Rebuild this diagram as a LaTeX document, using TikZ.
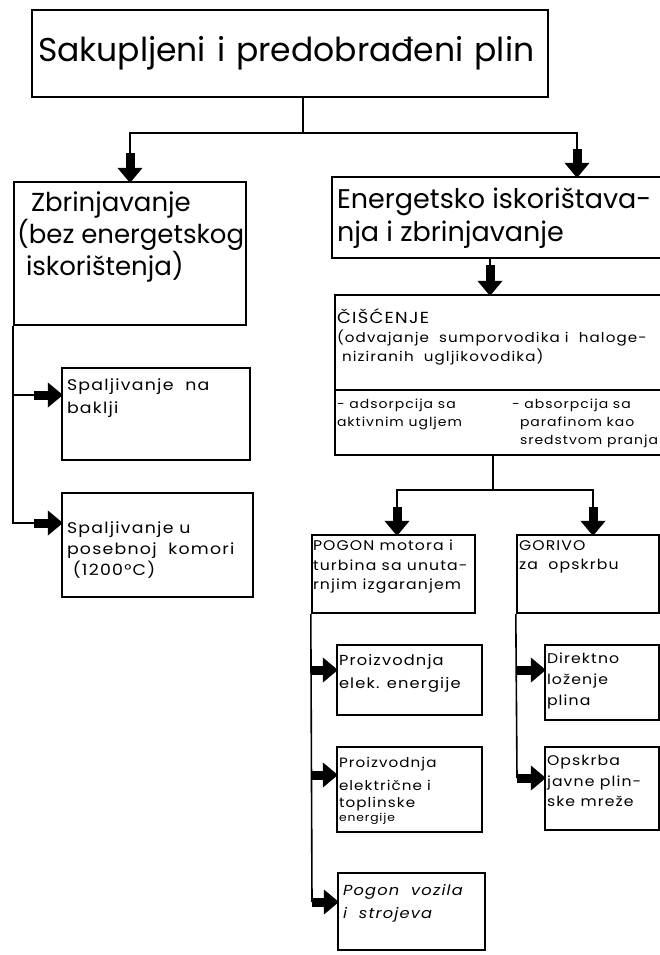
\documentclass[tikz,border=0pt]{standalone}
\usepackage{fontspec}
\setmainfont{Poppins}
\newfontfamily\wide{Poppins}[FakeStretch=1.12, LetterSpace=8]
\usetikzlibrary{arrows.meta}

\begin{document}
\begin{tikzpicture}[
    x=1pt, y=-1pt,
    box/.style={rectangle, draw=black, line width=2.4pt, inner sep=0pt},
    txt/.style={anchor=base west, align=left, inner sep=0pt},
    ln/.style={line width=1.6pt, draw=black},
    fat/.style={line width=9pt, shorten >=-2pt, -{Triangle[length=15pt, width=25pt, line width=0.4pt]}}
  ]
  \useasboundingbox (0,0) rectangle (660,955);

  \node[box, minimum width=516pt, minimum height=87pt, text width=504pt, align=left, font=\fontsize{33}{40}\selectfont] (top) at (290,53.5) {Sakupljeni i predobrađeni plin};

  \node[box, minimum width=232pt, minimum height=143pt, label={[txt, font=\fontsize{26}{30}\selectfont, xshift=4pt, yshift=-95pt]north west:{\hspace{14pt}Zbrinjavanje\\(bez energetskog\\\hspace{9pt}iskorištenja)}}] (zbr) at (130,253.5) {};
  \node[box, minimum width=332pt, minimum height=81pt, label={[txt, font=\fontsize{27}{33}\selectfont, xshift=6pt, yshift=-66pt]north west:{Energetsko iskorištava-\\nja i zbrinjavanje}}] (energ) at (498,217.5) {};

  \node[box, minimum width=188pt, minimum height=92pt, label={[txt, font=\wide\fontsize{15.5}{23}\selectfont, xshift=6pt, yshift=-47pt]north west:{Spaljivanje \ na\\baklji}}] (bakl) at (156,414) {};
  \node[box, minimum width=191pt, minimum height=104pt, label={[txt, font=\wide\fontsize{15.5}{21}\selectfont, xshift=6pt, yshift=-84pt]north west:{Spaljivanje u\\posebnoj \ komori\\\ (1200°C)}}] (komor) at (157.5,545) {};

  \node[box, minimum width=329pt, minimum height=95pt, label={[txt, font=\wide\fontsize{13.5}{19}\selectfont, xshift=3pt, yshift=-68pt]north west:{{\fontsize{16}{19}\selectfont ČIŠĆENJE}\\(odvajanje \ sumporvodika i \ haloge-\\\ niziranih \ ugljikovodika)}}] (ciscA) at (499.5,342.5) {};
  \node[box, minimum width=329pt, minimum height=65pt, label={[txt, font=\wide\fontsize{12.5}{18}\selectfont, xshift=3pt, yshift=-56pt]north west:{\begin{tabular}[b]{@{}p{175pt}@{}l@{}}- adsorpcija sa & - absorpcija sa\\aktivnim ugljem & \hspace{8pt}parafinom kao\\ & \hspace{8pt}sredstvom pranja\end{tabular}}}] (ciscB) at (499.5,422.5) {};

  \node[box, minimum width=163pt, minimum height=78pt, label={[txt, font=\wide\fontsize{14}{19.5}\selectfont, xshift=2pt, yshift=-56pt]north west:{POGON motora i\\turbina sa unuta-\\rnjim izgaranjem}}] (pogon) at (393.5,574) {};
  \node[box, minimum width=142pt, minimum height=78pt, label={[txt, font=\wide\fontsize{14}{19.5}\selectfont, xshift=3pt, yshift=-36pt]north west:{GORIVO\\za \ opskrbu}}] (goriv) at (588,574) {};

  \node[box, minimum width=145pt, minimum height=70pt, label={[txt, font=\wide\fontsize{14.5}{23}\selectfont, xshift=3pt, yshift=-45pt]north west:{Proizvodnja\\elek. energije}}] (elek) at (409.5,680) {};
  \node[box, minimum width=145pt, minimum height=85pt, label={[txt, font=\wide\fontsize{13.5}{17}\selectfont, xshift=3pt, yshift=-76pt]north west:{Proizvodnja\\[6pt]električne i\\toplinske\\[-3pt]{\fontsize{11}{12}\selectfont energije}}}] (topl) at (409.5,789.5) {};
  \node[box, minimum width=147pt, minimum height=77pt, label={[txt, font=\wide\fontsize{14.5}{23}\selectfont\itshape, xshift=6pt, yshift=-47pt]north west:{Pogon \ vozila\\i \ strojeva}}] (vozil) at (411.5,911.5) {};

  \node[box, minimum width=114pt, minimum height=75pt, label={[txt, font=\wide\fontsize{14}{21}\selectfont, xshift=3pt, yshift=-62pt]north west:{Direktno\\loženje\\plina}}] (direk) at (602,682.5) {};
  \node[box, minimum width=114pt, minimum height=83pt, label={[txt, font=\wide\fontsize{14}{20.5}\selectfont, xshift=3pt, yshift=-61pt]north west:{Opskrba\\javne plin-\\ske mreže}}] (opskr) at (602,788.5) {};

  % branch points
  \coordinate (j1) at (303,133);
  \coordinate (a2) at (577,149);
  \coordinate (a3) at (490,265);
  \coordinate (j2) at (493,490);
  \coordinate (a4) at (397,507);
  \coordinate (a5) at (593,507);
  \coordinate (c1) at (34,395);
  \coordinate (c2) at (34,523);
  \coordinate (b1) at (312,670);
  \coordinate (b2) at (312,775);
  \coordinate (b3) at (312,902);
  \coordinate (d1) at (517,670);
  \coordinate (d2) at (517,778);

  \draw[ln] (top.south -| j1) -- (j1);
  \draw[ln] (j1) -| ([yshift=28pt]zbr.north);
  \draw[fat] ([yshift=28pt]zbr.north) -- (zbr.north);
  \draw[ln] (j1) -| (a2);
  \draw[fat] (a2) -- (a2 |- energ.north);

  \draw[ln] (a3 |- energ.south) -- (a3);
  \draw[fat] (a3) -- (a3 |- ciscA.north);

  \draw[ln] (zbr.south west) |- (c2);
  \draw[ln] (c1 -| zbr.south west) -- (c1);
  \draw[fat] (c1) -- (c1 -| bakl.west);
  \draw[fat] (c2) -- (c2 -| komor.west);

  \draw[ln] (j2 |- ciscB.south) -- (j2);
  \draw[ln] (j2) -| (a4);
  \draw[fat] (a4) -- (a4 |- pogon.north);
  \draw[ln] (j2) -| (a5);
  \draw[fat] (a5) -- (a5 |- goriv.north);

  \draw[ln] (pogon.south west) -- (b3);
  \draw[fat] (b1) -- (b1 -| elek.west);
  \draw[fat] (b2) -- (b2 -| topl.west);
  \draw[fat] (b3) -- (b3 -| vozil.west);

  \draw[ln] (goriv.south west) -- (d2);
  \draw[fat] (d1) -- (d1 -| direk.west);
  \draw[fat] (d2) -- (d2 -| opskr.west);
\end{tikzpicture}
\end{document}
